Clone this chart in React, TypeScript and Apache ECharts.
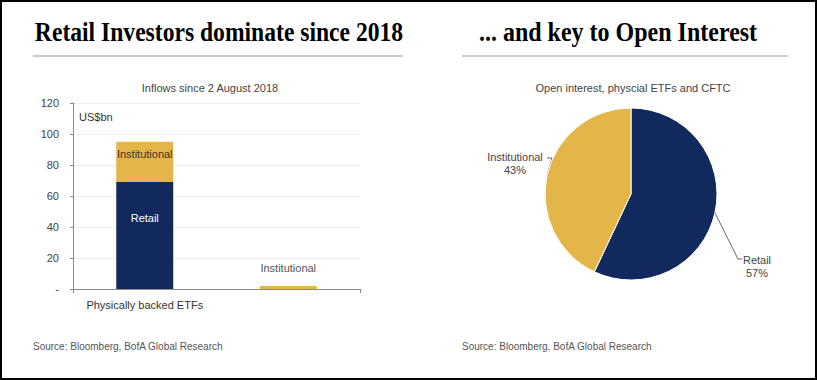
import React, { useEffect, useRef } from "react";
import * as echarts from "echarts";

const categories = ["Physically backed ETFs", "Futures"];
const retailInflows = [69, 0];
const institutionalInflows = [26, 2];
const pieNames = ["Retail", "Institutional"];
const pieValues = [57, 43];

const NAVY = "#12295d";
const GOLD = "#e4b64a";
const NARROW = "'Liberation Sans Narrow', 'Arial Narrow', sans-serif";
const SERIF = "'Liberation Serif', 'Times New Roman', serif";

export default function App() {
  const ref = useRef<HTMLDivElement>(null);
  useEffect(() => {
    if (!ref.current) return;
    const chart = echarts.init(ref.current, undefined, { renderer: "svg" });
    chart.setOption({
      animation: false,
      backgroundColor: "#fff",
      textStyle: { fontFamily: NARROW },
      graphic: [
        { type: "text", x: 219, y: 38, scaleY: 1.15, originX: 219, originY: 38, style: { text: "Retail Investors dominate since 2018", font: `bold 23.6px ${SERIF}`, fill: "#000", textAlign: "center", textVerticalAlign: "middle" } },
        { type: "line", shape: { x1: 33, y1: 56, x2: 403, y2: 56 }, style: { stroke: "#c8c8c8", lineWidth: 2 } },
        { type: "text", x: 618, y: 38, scaleY: 1.15, originX: 618, originY: 38, style: { text: "... and key to Open Interest", font: `bold 24px ${SERIF}`, fill: "#000", textAlign: "center", textVerticalAlign: "middle" } },
        { type: "line", shape: { x1: 462, y1: 56, x2: 788, y2: 56 }, style: { stroke: "#d0d0d0", lineWidth: 2 } },
        { type: "text", x: 210, y: 88, style: { text: "Inflows since 2 August 2018", font: `11px ${NARROW}`, fill: "#444", textAlign: "center", textVerticalAlign: "middle" } },
        { type: "text", x: 633, y: 88, style: { text: "Open interest, physcial ETFs and CFTC", font: `11px ${NARROW}`, fill: "#444", textAlign: "center", textVerticalAlign: "middle" } },
        { type: "text", x: 79, y: 117, style: { text: "US$bn", font: `11px ${NARROW}`, fill: "#333", textAlign: "left", textVerticalAlign: "middle" } },
        { type: "text", x: 33, y: 346, style: { text: "Source: Bloomberg, BofA Global Research", font: `10px ${NARROW}`, fill: "#555", textAlign: "left", textVerticalAlign: "middle" } },
        { type: "text", x: 462, y: 346, style: { text: "Source: Bloomberg, BofA Global Research", font: `10px ${NARROW}`, fill: "#555", textAlign: "left", textVerticalAlign: "middle" } },
        { type: "rect", z: 100, shape: { x: 1, y: 1, width: 815, height: 378 }, style: { fill: "none", stroke: "#000", lineWidth: 2 } },
      ],
      grid: { left: 73, right: 457, top: 103, bottom: 91 },
      xAxis: {
        type: "category",
        data: categories,
        axisLine: { lineStyle: { color: "#8a8a8a" } },
        axisTick: { show: true, length: 4, lineStyle: { color: "#8a8a8a" } },
        axisLabel: { color: "#333", fontSize: 11, margin: 10, fontFamily: NARROW },
      },
      yAxis: {
        type: "value",
        min: 0,
        max: 120,
        interval: 20,
        axisLine: { show: true, lineStyle: { color: "#8a8a8a" } },
        axisTick: { show: true, length: 3, lineStyle: { color: "#8a8a8a" } },
        splitLine: { lineStyle: { color: "#eeeeee" } },
        axisLabel: { color: "#444", fontSize: 11, margin: 14, fontFamily: NARROW, formatter: (v: number) => (v === 0 ? "-" : String(v)) },
      },
      series: [
        {
          name: "Retail",
          type: "bar",
          stack: "inflows",
          barWidth: 57,
          itemStyle: { color: NAVY },
          data: retailInflows.map((v, i) => ({
            value: v,
            label: { show: i === 0, position: "inside", formatter: "Retail", color: "#fff", fontSize: 11, offset: [0, -18], fontFamily: NARROW },
          })),
        },
        {
          name: "Institutional",
          type: "bar",
          stack: "inflows",
          barWidth: 57,
          itemStyle: { color: GOLD },
          data: institutionalInflows.map((v, i) => ({
            value: v,
            label:
              i === 0
                ? { show: true, position: "inside", formatter: "Institutional", color: "#3d3520", fontSize: 11, offset: [0, -8], fontFamily: NARROW }
                : { show: true, position: "top", distance: 12, formatter: "Institutional", color: "#555", fontSize: 11, fontFamily: NARROW },
          })),
        },
        {
          type: "pie",
          center: [631, 194],
          radius: 86,
          startAngle: 90,
          clockwise: true,
          itemStyle: { borderColor: "#fff", borderWidth: 1 },
          data: pieNames.map((n, i) => ({ name: n, value: pieValues[i], itemStyle: { color: i === 0 ? NAVY : GOLD } })),
          label: { show: true, formatter: "{b}\n{d}%", color: "#444", fontSize: 11, lineHeight: 13, align: "center", fontFamily: NARROW },
          labelLine: { show: true, lineStyle: { color: "#666", width: 1 } },
          labelLayout: (p: any) => {
            const edge = p.labelLinePoints ? p.labelLinePoints[0] : null;
            if (p.dataIndex === 0) {
              return {
                x: 757, y: 266, align: "center", verticalAlign: "middle",
                labelLinePoints: edge ? [edge, [738, 259], [742, 259]] : undefined,
              };
            }
            return {
              x: 515, y: 163, align: "center", verticalAlign: "middle",
              labelLinePoints: edge ? [edge, [552, 158], [547, 158]] : undefined,
            };
          },
        },
      ],
    });
    return () => chart.dispose();
  }, []);
  return <div ref={ref} style={{ position: "fixed", left: 0, top: 0, width: 817, height: 380 }} />;
}
